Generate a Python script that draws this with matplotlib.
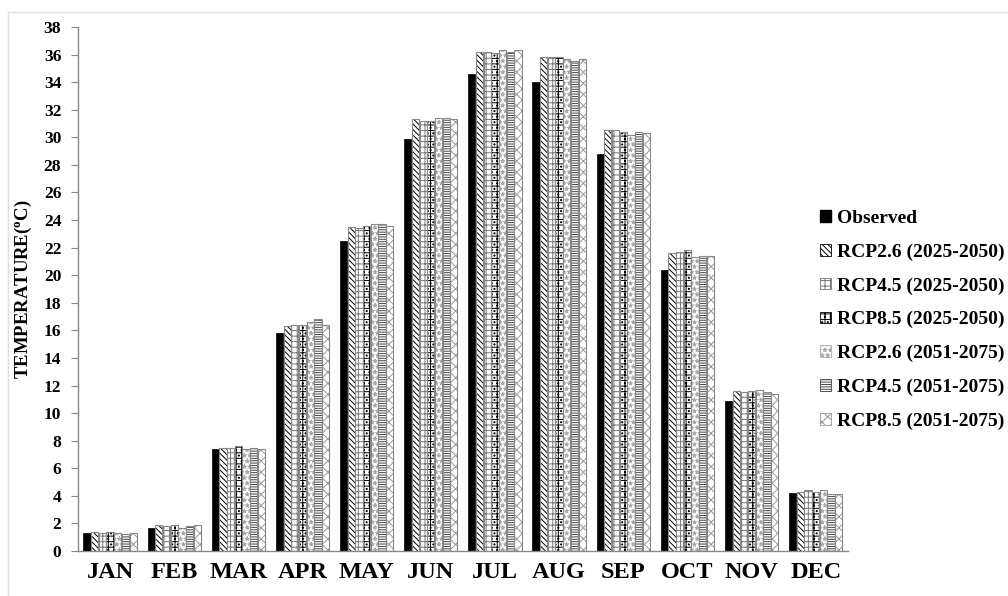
import matplotlib.pyplot as plt
import matplotlib.lines as mlines
import numpy as np

months = ['JAN', 'FEB', 'MAR', 'APR', 'MAY', 'JUN', 'JUL', 'AUG', 'SEP', 'OCT', 'NOV', 'DEC']

observed = [1.3, 1.7, 7.4, 15.8, 22.5, 29.9, 34.6, 34.0, 28.8, 20.4, 10.9, 4.2]
rcp26_a = [1.4, 1.9, 7.5, 16.3, 23.5, 31.3, 36.2, 35.8, 30.5, 21.6, 11.6, 4.3]
rcp45_a = [1.3, 1.8, 7.5, 16.4, 23.4, 31.2, 36.2, 35.8, 30.5, 21.7, 11.5, 4.4]
rcp85_a = [1.4, 1.9, 7.6, 16.4, 23.6, 31.2, 36.1, 35.8, 30.4, 21.8, 11.6, 4.3]
rcp26_b = [1.3, 1.7, 7.4, 16.6, 23.7, 31.4, 36.3, 35.7, 30.2, 21.3, 11.7, 4.4]
rcp45_b = [1.2, 1.8, 7.5, 16.8, 23.7, 31.4, 36.2, 35.5, 30.4, 21.4, 11.5, 4.1]
rcp85_b = [1.3, 1.9, 7.4, 16.4, 23.6, 31.3, 36.3, 35.7, 30.3, 21.4, 11.4, 4.1]

labels = ['Observed', 'RCP2.6 (2025-2050)', 'RCP4.5 (2025-2050)', 'RCP8.5 (2025-2050)',
          'RCP2.6 (2051-2075)', 'RCP4.5 (2051-2075)', 'RCP8.5 (2051-2075)']
series = [observed, rcp26_a, rcp45_a, rcp85_a, rcp26_b, rcp45_b, rcp85_b]

# (hatch, hatch colour) for each series
styles = [
    (None, 'black'),
    ('\\\\\\\\\\\\', 'black'),
    ('+++', '#777777'),
    ('+++...', 'black'),
    ('***', '#aaaaaa'),
    ('-------', '#444444'),
    ('xxx', '#999999'),
]

serif = ['Liberation Serif', 'DejaVu Serif']
plt.rcParams['hatch.linewidth'] = 0.7

fig = plt.figure(figsize=(10.08, 5.96), dpi=100)
ax = fig.add_axes([0.0774, 0.0755, 0.7636, 0.8792])

x = np.arange(len(months))
step = 0.12
width = 0.112
handles = []
for i, (vals, (hatch, hc)) in enumerate(zip(series, styles)):
    pos = x + (i - 3) * step
    if hatch is None:
        ax.bar(pos, vals, width, color='black', edgecolor='black', linewidth=0.5)
        h = ax.bar([0], [0], 0, color='black', edgecolor='black')
    else:
        ax.bar(pos, vals, width, color='white', hatch=hatch, edgecolor=hc, linewidth=0)
        ax.bar(pos, vals, width, fill=False, edgecolor='#888888', linewidth=0.8)
        h = ax.bar([0], [0], 0, color='white', hatch=hatch, edgecolor=hc, linewidth=0.6)
    handles.append(h)

ax.set_xlim(-0.5, 11.5)
ax.set_ylim(0, 38)
ax.set_yticks(np.arange(0, 39, 2))
ax.set_xticks(x)
ax.set_xticklabels(months)
ax.tick_params(axis='x', length=0, pad=8)
ax.tick_params(axis='y', length=5, color='#888888', direction='out', pad=7)
for lab in ax.get_yticklabels():
    lab.set_fontfamily(serif)
    lab.set_fontweight('bold')
    lab.set_fontsize(12.5)
for lab in ax.get_xticklabels():
    lab.set_fontfamily(serif)
    lab.set_fontweight('bold')
    lab.set_fontsize(17.5)

for s in ['top', 'right']:
    ax.spines[s].set_visible(False)
for s in ['left', 'bottom']:
    ax.spines[s].set_color('#888888')
    ax.spines[s].set_linewidth(1.0)

ax.set_ylabel('TEMPERATURE($\\mathregular{^{o}}$C)', fontfamily=serif,
              fontweight='bold', fontsize=13.5, labelpad=7)

leg = fig.legend(handles, labels, loc='upper left', bbox_to_anchor=(0.806, 0.661),
                 frameon=False, handlelength=0.55, handleheight=0.55, handletextpad=0.3,
                 labelspacing=0.85, borderaxespad=0,
                 prop={'family': serif, 'weight': 'bold', 'size': 14})

# thin light border of the original image
fig.add_artist(mlines.Line2D([0.008, 1.0], [0.98, 0.98], color='#e0e0e0', lw=1))
fig.add_artist(mlines.Line2D([0.008, 0.008], [0.0, 0.98], color='#e0e0e0', lw=1))

fig.savefig('out.png', dpi=100)
